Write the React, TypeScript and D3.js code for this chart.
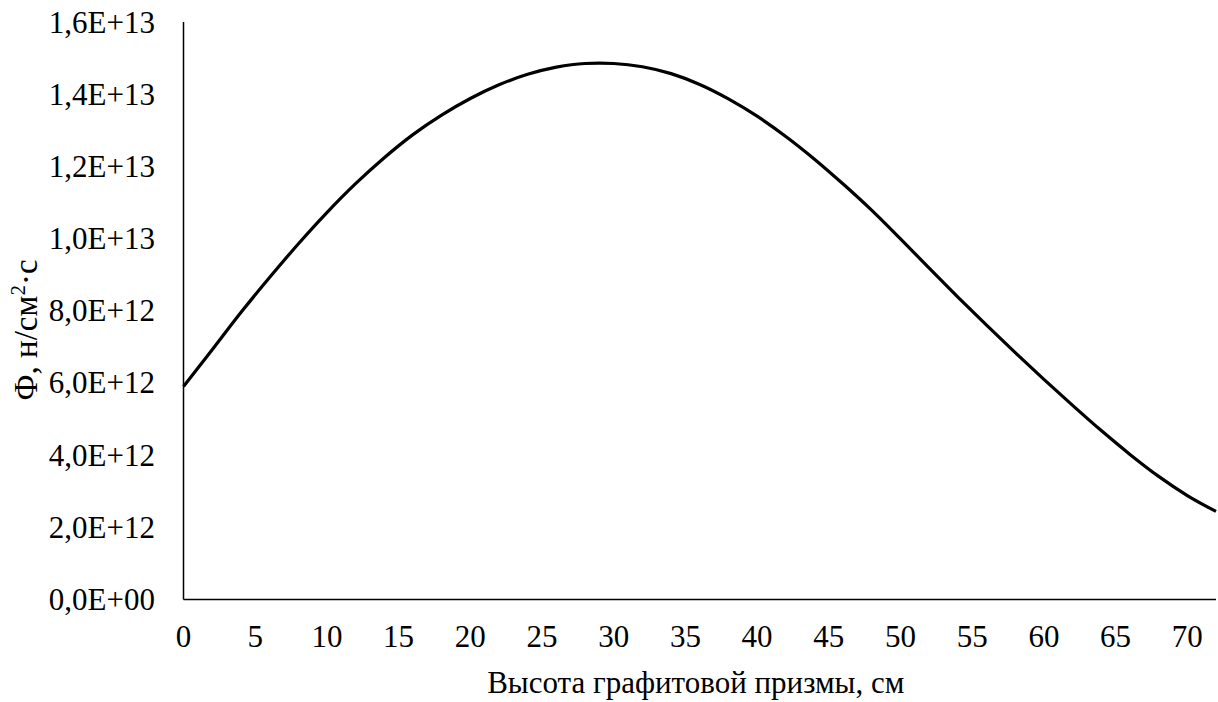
import React from "react";
import * as d3 from "d3";

// Neutron flux along the height of the graphite prism (values in units of 1E12 n/cm²·s)
const heightCm: number[] = [
  0, 2, 4, 6, 8, 10, 12, 14, 16, 18, 20, 22, 24, 26, 28, 29, 30, 32, 34, 36,
  38, 40, 42, 44, 46, 48, 50, 52, 54, 56, 58, 60, 62, 64, 66, 68, 70, 72,
];
const fluxE12: number[] = [
  5.9, 6.92, 7.95, 8.92, 9.85, 10.72, 11.52, 12.24, 12.88, 13.42, 13.88, 14.26,
  14.55, 14.75, 14.85, 14.86, 14.85, 14.76, 14.57, 14.27, 13.87, 13.39, 12.83,
  12.2, 11.51, 10.78, 9.99, 9.18, 8.38, 7.6, 6.84, 6.1, 5.38, 4.68, 4.02,
  3.41, 2.88, 2.44,
];
const xTicks: number[] = [0, 5, 10, 15, 20, 25, 30, 35, 40, 45, 50, 55, 60, 65, 70];
const yTicks: number[] = [0, 2e12, 4e12, 6e12, 8e12, 1e13, 1.2e13, 1.4e13, 1.6e13];

const xTitle = "Высота графитовой призмы, см";

const W = 1218;
const H = 702;
const left = 183.5;
const right = 1216;
const top = 22;
const bottom = 599.5;
const FONT = "'Liberation Serif', 'Times New Roman', serif";

// Excel-style scientific label: 1,6E+13
function sci(v: number): string {
  if (v === 0) return "0,0E+00";
  const exp = Math.floor(Math.log10(v) + 1e-9);
  const m = v / Math.pow(10, exp);
  const sign = exp < 0 ? "-" : "+";
  const e = String(Math.abs(exp)).padStart(2, "0");
  return `${m.toFixed(1).replace(".", ",")}E${sign}${e}`;
}

export default function App() {
  const x = d3.scaleLinear().domain([0, 72]).range([left, right]);
  const y = d3.scaleLinear().domain([0, 1.6e13]).range([bottom, top]);

  const points = heightCm.map((h, i) => [h, fluxE12[i] * 1e12] as [number, number]);
  const line = d3
    .line<[number, number]>()
    .x((d) => x(d[0]))
    .y((d) => y(d[1]))
    .curve(d3.curveMonotoneX);

  return (
    <svg
      width={W}
      height={H}
      style={{ position: "absolute", left: 0, top: 0, background: "#fff" }}
      fontFamily={FONT}
    >
      <rect x={0} y={0} width={W} height={H} fill="#fff" />
      {/* axes */}
      <line x1={left} x2={left} y1={top} y2={bottom} stroke="#000" strokeWidth={1.5} />
      <line x1={left} x2={right} y1={bottom} y2={bottom} stroke="#000" strokeWidth={1.5} />

      {/* y tick labels */}
      {yTicks.map((t) => (
        <text
          key={t}
          x={155}
          y={y(t)}
          textAnchor="end"
          dominantBaseline="central"
          fontSize={31}
          fill="#000"
        >
          {sci(t)}
        </text>
      ))}

      {/* x tick labels */}
      {xTicks.map((t) => (
        <text key={t} x={x(t)} y={647} textAnchor="middle" fontSize={31} fill="#000">
          {t}
        </text>
      ))}

      {/* axis titles */}
      <text x={(left + right) / 2 - 4} y={693} textAnchor="middle" fontSize={31} fill="#000">
        {xTitle}
      </text>
      <text
        transform={`translate(37, 330) rotate(-90)`}
        textAnchor="middle"
        fontSize={33}
        fill="#000"
      >
        Ф, н/см<tspan dy={-12} fontSize={21}>2</tspan>
        <tspan dy={12}>·с</tspan>
      </text>

      {/* flux curve */}
      <path d={line(points) || ""} fill="none" stroke="#000" strokeWidth={3.2} strokeLinejoin="round" />
    </svg>
  );
}
